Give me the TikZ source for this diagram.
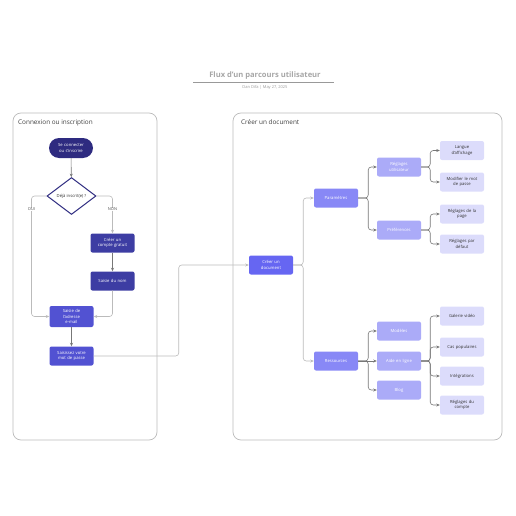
\documentclass[tikz,border=0pt]{standalone}
\usepackage{fontspec}
\setmainfont{Open Sans}
\usetikzlibrary{shapes.geometric,arrows.meta}
\definecolor{navy}{HTML}{2E2B80}
\definecolor{c2}{HTML}{3D3DA3}
\definecolor{c3}{HTML}{5252D2}
\definecolor{c4}{HTML}{6666F2}
\definecolor{c5}{HTML}{8888F6}
\definecolor{c6}{HTML}{ABABF8}
\definecolor{c7}{HTML}{DCDCFB}
\definecolor{lgray}{HTML}{BBBBBB}
\definecolor{lnk}{HTML}{777777}
\begin{document}
\begin{tikzpicture}[x=1pt,y=-1pt,
  box/.style={rounded corners=2pt, minimum width=44pt, minimum height=19pt, text width=42pt, align=center, font=\fontsize{4.2}{5.2}\selectfont, text=white, inner sep=1pt},
  arr/.style={draw=lnk, line width=0.6pt, rounded corners=3pt, -{Stealth[length=3.5pt,width=3pt]}},
  lab/.style={font=\fontsize{4}{5}\selectfont, text=black!70, fill=white, inner sep=0.5pt},
  cont/.style={draw=lgray, line width=0.7pt, rounded corners=8pt}]
\useasboundingbox (0,0) rectangle (516,516);
% title
\node[font=\bfseries\fontsize{7.6}{9}\selectfont, text=black!35] (title) at (265,76) {Flux d'un parcours utilisateur};
\draw[draw=black!40, line width=0.6pt] (193,82) -- (334,82);
\node[font=\fontsize{4}{5}\selectfont, text=black!40] (sub) at (265,87.5) {Dan Difa \textbar{} May 27, 2025};
% containers
\draw[cont] (13,113) rectangle (157,440);
\draw[cont] (233,113) rectangle (502,440);
\node[anchor=west, font=\fontsize{6.4}{7}\selectfont, text=black!75, inner sep=1pt] (t1) at (17,122.5) {Connexion ou inscription};
\node[anchor=west, font=\fontsize{6.4}{7}\selectfont, text=black!75, inner sep=1pt] (t2) at (240,122.5) {Créer un document};
% left flow
\node[box, fill=navy, rounded corners=10pt, minimum width=44pt, minimum height=20pt] (start) at (71,148) {Se connecter\\ou s'inscrire};
\node[diamond, draw=navy, line width=1pt, fill=white, minimum width=49pt, minimum height=37pt, inner sep=0pt, font=\fontsize{4.2}{5}\selectfont, text=black!80] (dia) at (71.5,196) {Déjà inscrit(e) ?};
\node[box, fill=c2] (acct) at (112.5,243) {Créer un\\compte gratuit};
\node[box, fill=c2] (nom) at (112.5,281) {Saisie du nom};
\node[box, fill=c3, minimum height=21pt] (mail) at (71.5,316.5) {Saisie de\\l'adresse\\e-mail};
\node[box, fill=c3] (pw) at (71.5,356) {Saisissez votre\\mot de passe};
\draw[arr] (start) -- (dia);
\draw[arr, draw=lgray] (dia.west) -- ++(-15,0) |- (mail.west);
\draw[arr, draw=lgray] (dia.east) -| (acct.north);
\node[lab] (oui) at (31.5,209.5) {OUI};
\node[lab] (non) at (112.5,209.5) {NON};
\draw[arr] (acct) -- (nom);
\draw[arr, draw=lgray] (nom.south) |- (mail.east);
\draw[arr] (mail) -- (pw);
% right flow
\node[box, fill=c4] (doc) at (271,265) {Créer un\\document};
\node[box, fill=c5] (par) at (336,198) {Paramètres};
\node[box, fill=c5] (res) at (336,361) {Ressources};
\draw[arr, draw=lgray] (pw.east) -- ++(85,0) |- (doc.west);
\draw[arr, draw=lgray] (doc.east) -- ++(10,0) |- (par.west);
\draw[arr, draw=lgray] (doc.east) -- ++(10,0) |- (res.west);
\node[box, fill=c6] (ru) at (399,167) {Réglages\\utilisateur};
\node[box, fill=c6] (pref) at (399,230) {Préférences};
\draw[arr] (par.east) -- ++(10,0) |- (ru.west);
\draw[arr] (par.east) -- ++(10,0) |- (pref.west);
\node[box, fill=c6] (mod) at (399,331) {Modèles};
\node[box, fill=c6] (aide) at (399,361) {Aide en ligne};
\node[box, fill=c6] (blog) at (399,390) {Blog};
\draw[arr] (res.east) -- ++(10,0) |- (mod.west);
\draw[arr] (res.east) -- (aide.west);
\draw[arr] (res.east) -- ++(10,0) |- (blog.west);
\tikzset{lv4/.style={box, fill=c7, text=black!80}}
\node[lv4] (lang) at (462,150.5) {Langue\\d'affichage};
\node[lv4] (mdp) at (462,182) {Modifier le mot\\de passe};
\node[lv4] (page) at (462,214) {Réglages de la\\page};
\node[lv4] (def) at (462,244) {Réglages par\\défaut};
\draw[arr] (ru.east) -- ++(9,0) |- (lang.west);
\draw[arr] (ru.east) -- ++(9,0) |- (mdp.west);
\draw[arr] (pref.east) -- ++(9,0) |- (page.west);
\draw[arr] (pref.east) -- ++(9,0) |- (def.west);
\node[lv4] (vid) at (462,316) {Galerie vidéo};
\node[lv4] (cas) at (462,347) {Cas populaires};
\node[lv4] (integ) at (462,376) {Intégrations};
\node[lv4] (cpt) at (462,405) {Réglages du\\compte};
\draw[arr] (aide.east) -- ++(9,0) |- (vid.west);
\draw[arr] (aide.east) -- ++(9,0) |- (cas.west);
\draw[arr] (aide.east) -- ++(9,0) |- (integ.west);
\draw[arr] (aide.east) -- ++(9,0) |- (cpt.west);
\end{tikzpicture}
\end{document}
